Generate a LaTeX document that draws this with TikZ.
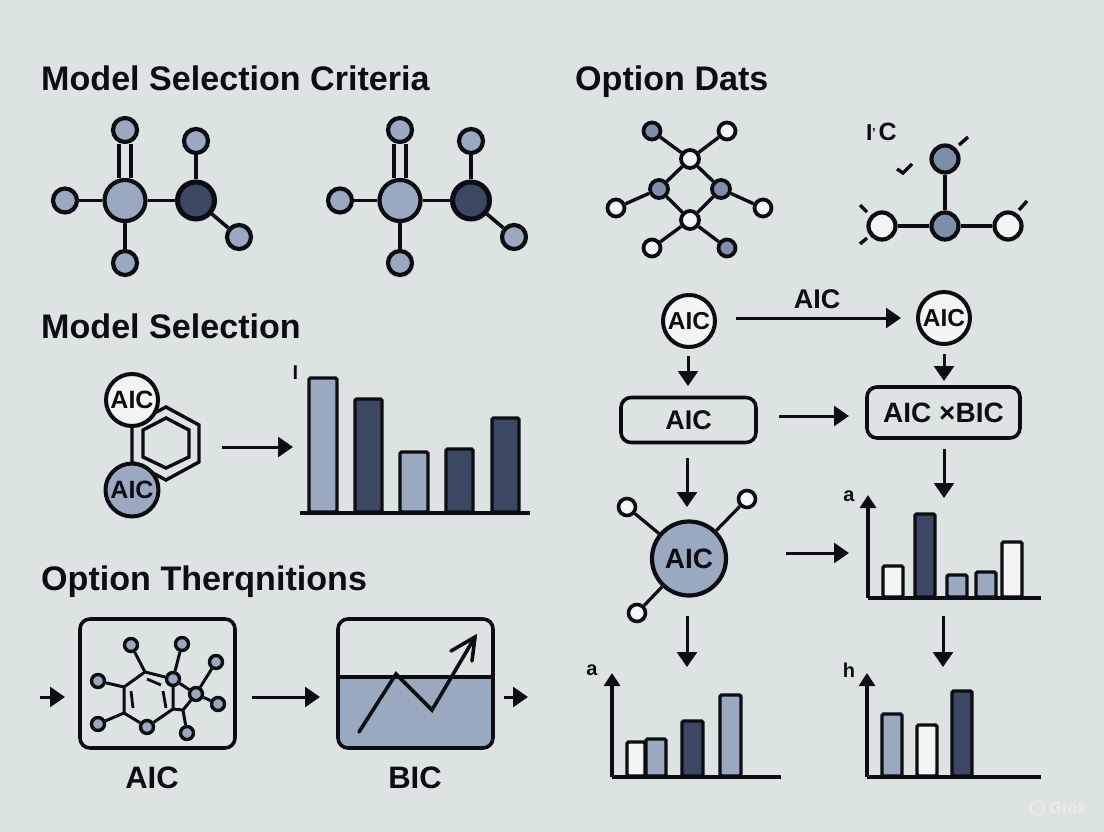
\documentclass[tikz,border=0pt]{standalone}
\usepackage{fontspec}
\setmainfont{Liberation Sans}
\usetikzlibrary{arrows.meta}
\definecolor{bgc}{HTML}{DCE4E3}
\definecolor{midc}{HTML}{9AA9BF}
\definecolor{midd}{HTML}{7F8EA9}
\definecolor{darkc}{HTML}{3B4763}
\definecolor{lightc}{HTML}{F3F5F4}
\definecolor{inkc}{HTML}{0B0D12}
\tikzset{
  atom/.style={circle,draw=inkc,inner sep=0pt,line width=#1},
  atom/.default=4.2pt,
  bond/.style={draw=inkc,line width=3.6pt},
  flow/.style={draw=inkc,line width=3pt,-{Triangle[length=15pt,width=20pt]}},
  title/.style={anchor=base west,inner sep=0pt,text=inkc,font=\bfseries\fontsize{34.1}{36}\selectfont},
  lab/.style={inner sep=0pt,text=inkc,font=\bfseries\fontsize{#1}{#1}\selectfont},
  barbox/.style={draw=inkc,line width=3.4pt,rounded corners=1.5pt},
  axis/.style={draw=inkc,line width=3.2pt},
  roundbox/.style={draw=inkc,line width=3.6pt,rounded corners=10pt},
}
\newcommand{\chartbar}[5]{\draw[barbox,fill=#5] (#1,#4) rectangle (#2,#3);}
\begin{document}
\begin{tikzpicture}[x=1pt,y=-1pt]
\useasboundingbox (0,0) rectangle (1104,832);
\fill[bgc] (0,0) rectangle (1104,832);
% titles
\node[title] (t1) at (41,91) {Model Selection Criteria};
\node[title] (t2) at (575,91) {Option Dats};
\node[title] (t3) at (41,338) {Model Selection};
\node[title] (t4) at (41,590) {Option Therqnitions};

% molecule 1
\foreach \p/\ox in {a/125,b/400}{
  \node[atom,fill=midc,minimum size=41pt] (\p big) at (\ox,200.5) {};
  \node[atom,line width=5pt,fill=darkc,minimum size=37pt] (\p dark) at (\ox+71,200.5) {};
  \node[atom,fill=midc,minimum size=24pt] (\p top) at (\ox,130) {};
  \node[atom,fill=midc,minimum size=24pt] (\p stop) at (\ox+71,141) {};
  \node[atom,fill=midc,minimum size=24pt] (\p left) at (\ox-60,200.5) {};
  \node[atom,fill=midc,minimum size=24pt] (\p bot) at (\ox,263) {};
  \node[atom,fill=midc,minimum size=24pt] (\p lr) at (\ox+114,237) {};
  \draw[bond] ([xshift=-6pt]\p top.south) -- ([xshift=-6pt]\p big.north);
  \draw[bond] ([xshift=6pt]\p top.south) -- ([xshift=6pt]\p big.north);
  \draw[bond] (\p left) -- (\p big);
  \draw[bond] (\p big) -- (\p dark);
  \draw[bond] (\p big) -- (\p bot);
  \draw[bond] (\p dark) -- (\p stop);
  \draw[bond] (\p dark) -- (\p lr);
}

% molecule 3
\foreach \n/\x/\y/\f/\s in {c1/652/131/midd/17,c2/727/131/lightc/17,c3/690/159/lightc/18,c4/659/189/midd/18,c5/721/189/midd/18,c6/616/208/lightc/17,c7/763/208/lightc/17,c8/690/220/lightc/18,c9/652/248/lightc/17,c10/727/248/midd/17}{
  \node[atom=3.8pt,fill=\f,minimum size=\s pt] (\n) at (\x,\y) {};
}
\foreach \u/\v in {c1/c3,c2/c3,c3/c4,c3/c5,c4/c6,c5/c7,c4/c8,c5/c8,c8/c9,c8/c10}{
  \draw[bond,line width=3.4pt] (\u) -- (\v);
}

% molecule 4
\node[atom,fill=midd,minimum size=27pt] (d1) at (945,159) {};
\node[atom,fill=midd,minimum size=27pt] (d2) at (945,226) {};
\node[atom,fill=lightc,minimum size=27pt] (d3) at (882,226) {};
\node[atom,fill=lightc,minimum size=27pt] (d4) at (1008,226) {};
\draw[bond,line width=3.4pt] (d1) -- (d2);
\draw[bond,line width=3.4pt] (d3) -- (d2);
\draw[bond,line width=3.4pt] (d2) -- (d4);
\node[lab=23,anchor=base west] (pc) at (866,141) {I\kern-0.5pt\raisebox{3pt}{\fontsize{13}{13}\selectfont'}\kern3pt{\fontsize{25}{25}\selectfont C}};
\foreach \a/\b/\c/\e in {959/145/968/137,860/205/867/212,860/244/867/238,1019/210/1027/201}{
  \draw[bond,line width=3.4pt] (\a,\b) -- (\c,\e);
}
\draw[bond,line width=3.4pt] (897,169) -- (903,173) -- (912,164);

% model selection: hexagon
\draw[bond,line width=3.4pt] (166,407) -- (199,425) -- (199,462) -- (166,480) -- (132,462) -- (132,425) -- cycle;
\draw[bond,line width=3.4pt] (166,418) -- (189,430) -- (189,457) -- (166,468) -- (143,457) -- (143,430) -- cycle;
\node[atom=4pt,fill=lightc,minimum size=52pt,lab=25] (m1) at (132,400) {AIC};
\node[atom=4pt,fill=midc,minimum size=53pt,lab=25] (m2) at (132,490) {AIC};
\coordinate (m3a) at (222,447); \coordinate (m3b) at (293,447);
\draw[flow] (m3a) -- (m3b);
\node[lab=20] (ibar) at (295.5,373) {I};
\chartbar{309}{337}{378}{512}{midc}
\chartbar{355}{382}{399}{512}{darkc}
\chartbar{400}{428}{452}{512}{midc}
\chartbar{446}{473}{449}{512}{darkc}
\chartbar{492}{519}{418}{512}{darkc}
\coordinate (bl) at (300,513); \coordinate (br) at (530,513);
\draw[axis,line width=4pt] (bl) -- (br);

% bottom boxes
\node[roundbox,minimum width=155pt,minimum height=129pt,inner sep=0pt] (box1) at (157.5,683.5) {};
\coordinate (ring1) at (145,672); \coordinate (ring3) at (173,709); \coordinate (ring5) at (124,713); \coordinate (ring6) at (124,687); \coordinate (pent) at (183,710);
\foreach \n/\x/\y in {e1/131/645,e2/182/644,e3/216/662,e4/98/681,e5/98/724,e6/147/727,e7/173/679,e8/196/694,e9/218/704,e10/187/733}{
  \node[atom=3.4pt,fill=midc,minimum size=13pt] (\n) at (\x,\y) {};
}
\draw[bond,line width=3pt] (ring1) -- (e7) (e7) -- (ring3) (ring3) -- (e6) (e6) -- (ring5) -- (ring6) -- (ring1);
\draw[bond,line width=3pt] (ring1) -- (e1) (e7) -- (e2) (e3) -- (e8) (e8) -- (e9) (e4) -- (ring6) (e5) -- (ring5) (e7) -- (e8) (e8) -- (pent) -- (ring3) (pent) -- (e10);
\draw[bond,line width=2.8pt] (147,679) -- (161,685) (131,691) -- (133,708) (163,691) -- (166,708);

\fill[midc,rounded corners=10pt] (337,677) -- (337,749) -- (494,749) -- (494,677) -- cycle;
\fill[midc] (337,677) rectangle (494,700);
\node[roundbox,minimum width=155pt,minimum height=129pt,inner sep=0pt] (box2) at (415.5,683.5) {};
\draw[axis] (337,677) -- (494,677);
\coordinate (z1) at (359,732); \coordinate (z2) at (396,674); \coordinate (z3) at (432,710); \coordinate (z4) at (475,637);
\draw[bond,line cap=round,line join=miter] (z1) -- (z2) -- (z3) -- (z4);
\draw[bond,line cap=round] (451,651) -- (z4) -- (472,661);
\coordinate (l1) at (40,697); \coordinate (l2) at (65,697);
\coordinate (l3) at (252,697); \coordinate (l4) at (320,697);
\coordinate (l5) at (504,697); \coordinate (l6) at (528,697);
\draw[flow] (l1) -- (l2);
\draw[flow] (l3) -- (l4);
\draw[flow] (l5) -- (l6);
\node[lab=31] (aic) at (152,778) {AIC};
\node[lab=31] (bic) at (415,778) {BIC};

% right flow
\node[atom=4pt,fill=lightc,minimum size=52pt,lab=24.5] (f1) at (689,321) {AIC};
\node[atom=4pt,fill=lightc,minimum size=52pt,lab=24.5] (f2) at (944,318) {AIC};
\coordinate (fa) at (736,318); \coordinate (fb) at (901,318);
\draw[flow] (fa) -- (fb);
\node[lab=27] (faic) at (817,299) {AIC};
\node[roundbox,minimum width=135pt,minimum height=45pt,inner sep=0pt,lab=27] (g1) at (688.5,420) {AIC};
\node[roundbox,minimum width=153pt,minimum height=51pt,inner sep=0pt,lab=28] (g2) at (943.5,412.5) {AIC ×BIC};
\coordinate (fc) at (688,356); \coordinate (fd) at (688,386);
\coordinate (fe) at (944,354); \coordinate (ff) at (944,381);
\draw[flow] (fc) -- (fd);
\draw[flow] (fe) -- (ff);
\coordinate (g1r) at (779,416); \coordinate (g2l) at (849,416);
\draw[flow] (g1r) -- (g2l);
\coordinate (h1) at (687,458); \coordinate (h2) at (687,507);
\coordinate (h3) at (944,449); \coordinate (h4) at (944,498);
\draw[flow] (h1) -- (h2);
\draw[flow] (h3) -- (h4);

\node[atom=4.2pt,fill=midc,minimum size=74pt,lab=28] (big) at (689,558.5) {\raisebox{-3pt}{AIC}};
\node[atom=3.6pt,fill=lightc,minimum size=17pt] (s1) at (627,507) {};
\node[atom=3.6pt,fill=lightc,minimum size=17pt] (s2) at (747,499) {};
\node[atom=3.6pt,fill=lightc,minimum size=17pt] (s3) at (637,613) {};
\draw[bond,line width=3.2pt] (s1) -- (big);
\draw[bond,line width=3.2pt] (s2) -- (big);
\draw[bond,line width=3.2pt] (s3) -- (big);
\coordinate (j1) at (786,553); \coordinate (j2) at (849,553);
\draw[flow] (j1) -- (j2);
\coordinate (k1) at (687,616); \coordinate (k2) at (687,667);
\coordinate (k3) at (943,616); \coordinate (k4) at (943,667);
\draw[flow] (k1) -- (k2);
\draw[flow] (k3) -- (k4);

% chart upper right
\chartbar{883}{903}{566}{597}{lightc}
\chartbar{915}{935}{514}{597}{darkc}
\chartbar{947}{967}{575}{597}{midc}
\chartbar{976}{996}{572}{597}{midc}
\chartbar{1002}{1022}{542}{597}{lightc}
\coordinate (c1o) at (868,598); \coordinate (c1t) at (868,495); \coordinate (c1r) at (1041,598);
\draw[axis,-{Triangle[length=13pt,width=16pt]}] (c1o) -- (c1t);
\draw[axis] (c1o) -- (c1r);
\node[lab=20] (ca) at (849,496) {a};

% chart lower left
\chartbar{627}{645}{742}{776}{lightc}
\chartbar{646}{666}{739}{776}{midc}
\chartbar{682}{703}{721}{776}{darkc}
\chartbar{720}{741}{695}{776}{midc}
\coordinate (c2o) at (612,777); \coordinate (c2t) at (612,673); \coordinate (c2r) at (781,777);
\draw[axis,-{Triangle[length=13pt,width=16pt]}] (c2o) -- (c2t);
\draw[axis] (c2o) -- (c2r);
\node[lab=20] (cb) at (592,670) {a};

% chart lower right
\chartbar{882}{902}{714}{776}{midc}
\chartbar{917}{937}{725}{776}{lightc}
\chartbar{952}{972}{691}{776}{darkc}
\coordinate (c3o) at (867,777); \coordinate (c3t) at (867,673); \coordinate (c3r) at (1041,777);
\draw[axis,-{Triangle[length=13pt,width=16pt]}] (c3o) -- (c3t);
\draw[axis] (c3o) -- (c3r);
\node[lab=20] (cc) at (849,670) {h};

% watermark
\node[inner sep=0pt,text=white,opacity=0.35,font=\bfseries\fontsize{16}{16}\selectfont] (grok) at (1068,808) {Grok};
\node[circle,draw=white,opacity=0.35,line width=1.6pt,minimum size=14pt,inner sep=0pt] (grokicon) at (1037,808) {};
\end{tikzpicture}
\end{document}
